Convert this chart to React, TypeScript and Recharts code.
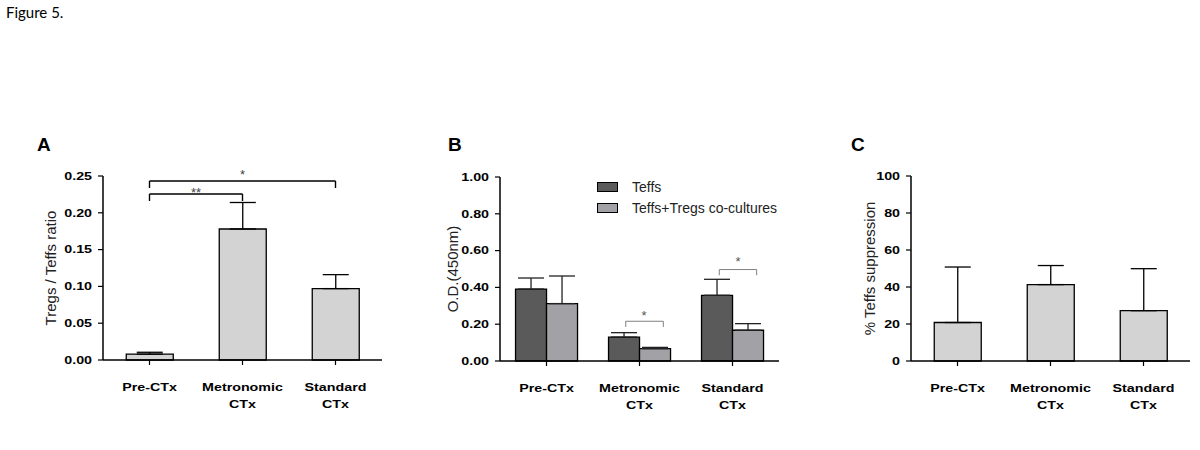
import React from 'react'
import {
  BarChart, Bar, XAxis, YAxis, ErrorBar, ReferenceLine, ReferenceDot, Legend,
} from 'recharts'

const categories = ['Pre-CTx', 'Metronomic CTx', 'Standard CTx']

// A - Tregs / Teffs ratio
const ratioMean = [0.008, 0.178, 0.097]
const ratioErrTop = [0.0105, 0.214, 0.116]
const ratioTicks = [0, 0.05, 0.1, 0.15, 0.2, 0.25]

// B - O.D. (450nm)
const teffsOD = [0.391, 0.13, 0.357]
const teffsErrTop = [0.451, 0.154, 0.444]
const cocultureOD = [0.312, 0.067, 0.167]
const cocultureErrTop = [0.462, 0.074, 0.203]
const odTicks = [0, 0.2, 0.4, 0.6, 0.8, 1]

// C - % Teffs suppression
const suppression = [20.8, 41.3, 27.2]
const suppressionErrTop = [50.8, 51.6, 49.9]
const suppressionTicks = [0, 20, 40, 60, 80, 100]

// significance brackets: x in category units (0..3), y in data units
const bracketsA = [
  { x1: 0.5, x2: 1.5, y: 0.2255, drop: 0.216, label: '**', labelX: 1.0, labelY: 0.231 },
  { x1: 0.5, x2: 2.5, y: 0.2432, drop: 0.2337, label: '*', labelX: 1.5, labelY: 0.256 },
]
const bracketsB = [
  { x1: 1.352, x2: 1.756, y: 0.216, drop: 0.185, label: '*', labelX: 1.55, labelY: 0.261 },
  { x1: 2.358, x2: 2.76, y: 0.497, drop: 0.466, label: '*', labelX: 2.56, labelY: 0.557 },
]

const FONT = '"Liberation Sans", Arial, sans-serif'
const SX = 1.36 // the figure's text is horizontally stretched
const LIGHT = '#d3d3d3'
const TEFF = '#5a5a5a'
const COCULT = '#a2a2a6'

// slot = category centre on the hidden 0..3 axis used for the brackets
const dataA = categories.map((c, i) => ({ name: c, slot: i + 0.5, mean: ratioMean[i], err: [0, ratioErrTop[i] - ratioMean[i]] }))
const dataB = categories.map((c, i) => ({
  name: c,
  slot: i + 0.5,
  teffs: teffsOD[i],
  teffsErr: [0, teffsErrTop[i] - teffsOD[i]],
  co: cocultureOD[i],
  coErr: [0, cocultureErrTop[i] - cocultureOD[i]],
}))
const dataC = categories.map((c, i) => ({ name: c, mean: suppression[i], err: [0, suppressionErrTop[i] - suppression[i]] }))

function ValueTick(props: any) {
  const { x, y, payload, digits } = props
  return (
    <g transform={`translate(${x},${y}) scale(${SX},1)`}>
      <text x={0} y={0} dy="0.36em" textAnchor="end" fontSize={10.5} fontWeight="bold" fill="#000" fontFamily={FONT}>
        {Number(payload.value).toFixed(digits)}
      </text>
    </g>
  )
}

function CatTick(props: any) {
  const { x, y, payload } = props
  const lines = String(payload.value).split(' ')
  return (
    <g transform={`translate(${x},${y}) scale(${SX},1)`}>
      {lines.map((l, i) => (
        <text key={i} x={0} y={26 + i * 17} textAnchor="middle" fontSize={10.5} fontWeight="bold" fill="#000" fontFamily={FONT}>
          {l}
        </text>
      ))}
    </g>
  )
}

const yLabel = (text: string, cx: number) => (p: any) => {
  const vb = p.viewBox || { x: 0, y: 0, width: 0, height: 0 }
  const x = vb.x + cx
  const y = vb.y + vb.height / 2
  return (
    <text transform={`translate(${x},${y}) rotate(-90)`} textAnchor="middle" dominantBaseline="central" fontSize={15} fill="#222" fontFamily={FONT}>
      {text}
    </text>
  )
}

function brackets(list: typeof bracketsA, stroke: string, width: number, starColor: string) {
  return list.flatMap((b, i) => [
    <ReferenceLine key={`h${i}`} xAxisId="n" ifOverflow="visible" stroke={stroke} strokeWidth={width}
      segment={[{ x: b.x1, y: b.y }, { x: b.x2, y: b.y }]} />,
    <ReferenceLine key={`l${i}`} xAxisId="n" ifOverflow="visible" stroke={stroke} strokeWidth={width}
      segment={[{ x: b.x1, y: b.y }, { x: b.x1, y: b.drop }]} />,
    <ReferenceLine key={`r${i}`} xAxisId="n" ifOverflow="visible" stroke={stroke} strokeWidth={width}
      segment={[{ x: b.x2, y: b.y }, { x: b.x2, y: b.drop }]} />,
    <ReferenceDot key={`s${i}`} xAxisId="n" ifOverflow="visible" x={b.labelX} y={b.labelY} r={0}
      shape={(p: any) => (
        <text x={p.cx} y={p.cy} dy="0.55em" textAnchor="middle" fontSize={13} fill={starColor} stroke="none" fontFamily={FONT}>{b.label}</text>
      )} />,
  ])
}

const axisProps = {
  stroke: '#000',
  strokeWidth: 1.5,
  tickLine: { stroke: '#000', strokeWidth: 1.2 },
  tickSize: 5,
}

export default function App() {
  return (
    <div style={{ position: 'absolute', left: 0, top: 0, width: 1200, height: 450, background: '#fff' }}>
      {/* A */}
      <div style={{ position: 'absolute', left: 0, top: 130 }}>
        <BarChart width={400} height={290} data={dataA} margin={{ top: 46, right: 18, left: 0, bottom: 0 }} barCategoryGap="25%">
          <XAxis dataKey="name" height={60} interval={0} tickMargin={0} tick={<CatTick />} {...axisProps} />
          <XAxis xAxisId="n" dataKey="slot" type="number" domain={[0, 3]} hide allowDataOverflow />
          <YAxis width={103} domain={[0, 0.25]} ticks={ratioTicks} tickMargin={6} tick={<ValueTick digits={2} />}
            label={{ content: yLabel('Tregs / Teffs ratio', 50) }} {...axisProps} />
          <Bar dataKey="mean" fill={LIGHT} stroke="#000" strokeWidth={1.3} isAnimationActive={false}>
            <ErrorBar dataKey="err" direction="y" width={13} stroke="#000" strokeWidth={1.3} />
          </Bar>
          {brackets(bracketsA, '#000', 1.4, '#444')}
        </BarChart>
      </div>

      {/* B */}
      <div style={{ position: 'absolute', left: 400, top: 130 }}>
        <BarChart width={400} height={291} data={dataB} margin={{ top: 47, right: 21, left: 0, bottom: 0 }} barCategoryGap="16.7%" barGap={0}>
          <XAxis dataKey="name" height={60} interval={0} tickMargin={0} tick={<CatTick />} {...axisProps} />
          <XAxis xAxisId="n" dataKey="slot" type="number" domain={[0, 3]} hide allowDataOverflow />
          <YAxis width={100} domain={[0, 1]} ticks={odTicks} tickMargin={6} tick={<ValueTick digits={2} />}
            label={{ content: yLabel('O.D.(450nm)', 52) }} {...axisProps} />
          <Legend layout="horizontal" verticalAlign="middle" align="center"
            wrapperStyle={{ left: 197, top: 46, width: 220 }}
            content={(p: any) => (
              <div>
                {(p.payload || []).map((e: any) => (
                  <div key={e.value} style={{ display: 'flex', alignItems: 'center', height: 21 }}>
                    <span style={{ width: 19, height: 8, background: e.color, border: '1px solid #000', marginRight: 14 }} />
                    <span style={{ fontFamily: FONT, fontSize: 14, color: '#222' }}>{e.value}</span>
                  </div>
                ))}
              </div>
            )} />
          <Bar dataKey="teffs" name="Teffs" fill={TEFF} stroke="#000" strokeWidth={1.3} isAnimationActive={false}>
            <ErrorBar dataKey="teffsErr" direction="y" width={13} stroke="#222" strokeWidth={1.3} />
          </Bar>
          <Bar dataKey="co" name="Teffs+Tregs co-cultures" fill={COCULT} stroke="#000" strokeWidth={1.3} isAnimationActive={false}>
            <ErrorBar dataKey="coErr" direction="y" width={13} stroke="#222" strokeWidth={1.3} />
          </Bar>
          {brackets(bracketsB, '#808080', 1, '#555')}
        </BarChart>
      </div>

      {/* C */}
      <div style={{ position: 'absolute', left: 800, top: 130 }}>
        <BarChart width={400} height={291} data={dataC} margin={{ top: 46, right: 10, left: 0, bottom: 0 }} barCategoryGap="25%">
          <XAxis dataKey="name" height={60} interval={0} tickMargin={0} tick={<CatTick />} {...axisProps} />
          <YAxis width={111} domain={[0, 100]} ticks={suppressionTicks} tickMargin={6} tick={<ValueTick digits={0} />}
            label={{ content: yLabel('% Teffs suppression', 69) }} {...axisProps} />
          <Bar dataKey="mean" fill={LIGHT} stroke="#000" strokeWidth={1.3} isAnimationActive={false}>
            <ErrorBar dataKey="err" direction="y" width={13} stroke="#000" strokeWidth={1.3} />
          </Bar>
        </BarChart>
      </div>

      {/* figure caption and panel letters */}
      <svg width={1200} height={450} style={{ position: 'absolute', left: 0, top: 0, pointerEvents: 'none' }}>
        <text x={6} y={18} fontSize={15} fontFamily="Lato, sans-serif" fill="#000">Figure 5.</text>
        <text x={37} y={151} fontSize={19} fontWeight="bold" fontFamily={FONT} fill="#000">A</text>
        <text x={448} y={151} fontSize={19} fontWeight="bold" fontFamily={FONT} fill="#000">B</text>
        <text x={851} y={151} fontSize={19} fontWeight="bold" fontFamily={FONT} fill="#000">C</text>
      </svg>
    </div>
  )
}
